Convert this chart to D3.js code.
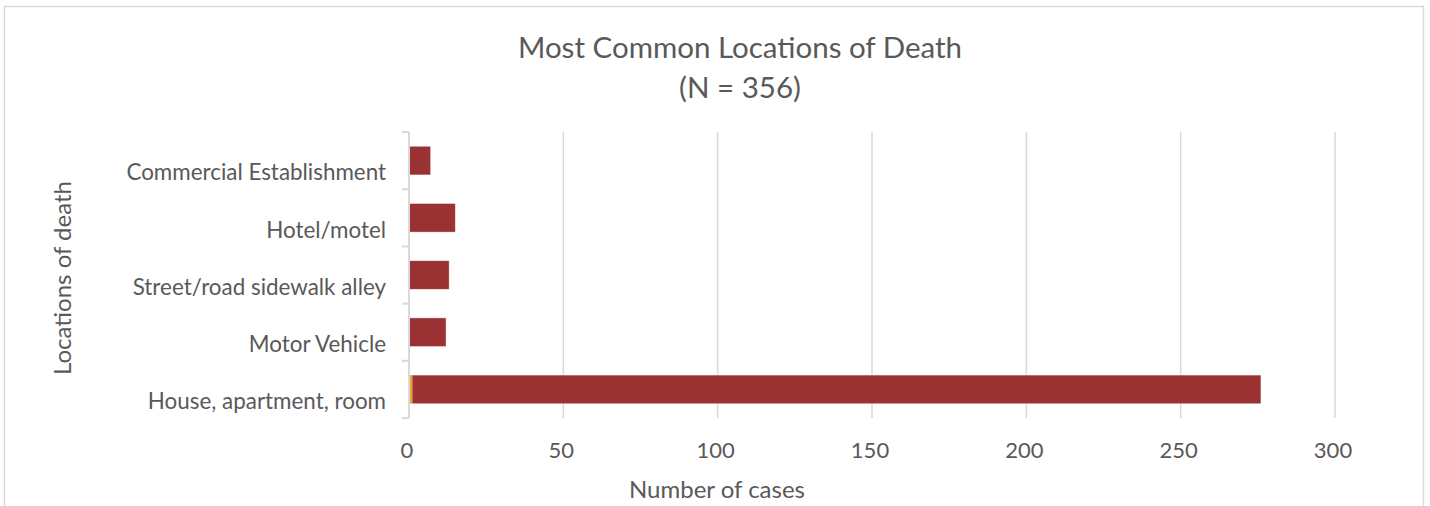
<!DOCTYPE html>
<html>
<head>
<meta charset="utf-8">
<script src="https://cdn.jsdelivr.net/npm/d3@7"></script>
<style>
  body { margin: 0; background: #fff; }
  text { font-family: Lato, "Open Sans", sans-serif; fill: #595959; }
</style>
</head>
<body>
<svg id="chart" width="1430" height="506"></svg>
<script>
// chart data
var categories = ["House, apartment, room", "Motor Vehicle", "Street/road sidewalk alley", "Hotel/motel", "Commercial Establishment"];
var otherValues = [1, 0, 0, 0, 0];      // thin orange sliver
var mainValues = [275, 12, 13, 15, 7];  // dark red bars
var xTicks = [0, 50, 100, 150, 200, 250, 300];

var svg = d3.select("#chart");

// outer border like the Excel chart area
svg.append("rect")
	.attr("x", 4.5).attr("y", 6.5)
	.attr("width", 1419).attr("height", 520)
	.style("fill", "none")
	.style("stroke", "#d9d9d9")
	.style("stroke-width", 1.5);

var x = d3.scaleLinear().domain([0, 300]).range([409, 1335]);

// categories top to bottom: reversed order
var y = d3.scaleBand()
	.domain(categories.slice().reverse())
	.range([132, 418])
	.paddingInner(0.5)
	.paddingOuter(0.25);

// gridlines
svg.append("g").selectAll("line")
	.data(xTicks.slice(1))
	.enter().append("line")
	.attr("x1", function(d) { return x(d); })
	.attr("x2", function(d) { return x(d); })
	.attr("y1", 132).attr("y2", 418)
	.style("stroke", "#d9d9d9")
	.style("stroke-width", 1.5);

// stacked bars
var rows = categories.map(function(c, i) {
	return { cat: c, other: otherValues[i], main: mainValues[i] };
});

svg.append("g").selectAll("rect")
	.data(rows)
	.enter().append("rect")
	.attr("x", function(d) { return x(d.other); })
	.attr("y", function(d) { return y(d.cat); })
	.attr("width", function(d) { return x(d.other + d.main) - x(d.other); })
	.attr("height", y.bandwidth())
	.style("fill", "#9a3234")
	.style("stroke", "#fff")
	.style("stroke-opacity", 0.45)
	.style("stroke-width", 0.8);

svg.append("g").selectAll("rect")
	.data(rows.filter(function(d) { return d.other > 0; }))
	.enter().append("rect")
	.attr("x", x(0))
	.attr("y", function(d) { return y(d.cat); })
	.attr("width", function(d) { return x(d.other) - x(0); })
	.attr("height", y.bandwidth())
	.style("fill", "#eda228");

// vertical category axis with ticks at band boundaries
var yAxis = svg.append("g");
yAxis.append("line")
	.attr("x1", 409).attr("x2", 409)
	.attr("y1", 132).attr("y2", 418)
	.style("stroke", "#d9d9d9")
	.style("stroke-width", 2);

var step = (418 - 132) / categories.length;
yAxis.selectAll(".tick")
	.data(d3.range(categories.length + 1))
	.enter().append("line")
	.attr("x1", 402).attr("x2", 409)
	.attr("y1", function(i) { return 132 + i * step; })
	.attr("y2", function(i) { return 132 + i * step; })
	.style("stroke", "#d9d9d9")
	.style("stroke-width", 2);

yAxis.selectAll(".lbl")
	.data(categories)
	.enter().append("text")
	.attr("x", 386)
	.attr("y", function(d) { return y(d) + y.bandwidth() / 2 + 12; })
	.attr("dy", "0.35em")
	.attr("text-anchor", "end")
	.style("font-size", "22.4px")
	.text(function(d) { return d; });

// x tick labels
svg.append("g").selectAll("text")
	.data(xTicks)
	.enter().append("text")
	.attr("x", function(d) { return x(d) - 2; })
	.attr("y", 450)
	.attr("dy", "0.35em")
	.attr("text-anchor", "middle")
	.style("font-size", "22px")
	.text(function(d) { return d; });

// titles
svg.append("text")
	.attr("x", 740).attr("y", 48)
	.attr("dy", "0.35em")
	.attr("text-anchor", "middle")
	.style("font-size", "29.5px")
	.text("Most Common Locations of Death");

svg.append("text")
	.attr("x", 740).attr("y", 88)
	.attr("dy", "0.35em")
	.attr("text-anchor", "middle")
	.style("font-size", "29.5px")
	.text("(N = 356)");

svg.append("text")
	.attr("x", 717).attr("y", 490)
	.attr("dy", "0.35em")
	.attr("text-anchor", "middle")
	.style("font-size", "24px")
	.text("Number of cases");

svg.append("text")
	.attr("transform", "translate(63,278) rotate(-90)")
	.attr("dy", "0.35em")
	.attr("text-anchor", "middle")
	.style("font-size", "24px")
	.text("Locations of death");
</script>
</body>
</html>
